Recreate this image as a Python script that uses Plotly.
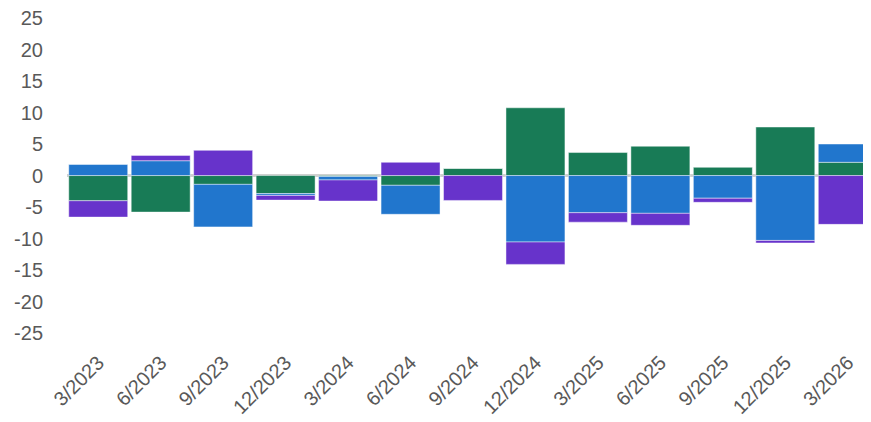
import plotly.graph_objects as go

categories = ["3/2023", "6/2023", "9/2023", "12/2023", "3/2024", "6/2024", "9/2024",
              "12/2024", "3/2025", "6/2025", "9/2025", "12/2025", "3/2026"]

green = [-4.0, -5.8, -1.4, -2.85, -0.15, -1.55, 1.15, 10.75, 3.65, 4.65, 1.3, 7.7, 2.1]
blue = [1.75, 2.35, -6.75, -0.3, -0.55, -4.6, 0.0, -10.55, -5.9, -6.0, -3.6, -10.3, 2.9]
purple = [-2.6, 0.85, 4.0, -0.75, -3.35, 2.1, -3.95, -3.55, -1.5, -1.9, -0.65, -0.4, -7.75]

colors = {"green": "#187b56", "blue": "#2176cd", "purple": "#6733cb"}

fig = go.Figure()
for name, vals in [("green", green), ("blue", blue), ("purple", purple)]:
    fig.add_trace(go.Bar(
        x=categories, y=vals, name=name,
        marker=dict(color=colors[name], line=dict(color="rgba(255,255,255,0.45)", width=1)),
    ))

fig.update_layout(
    barmode="relative",
    bargap=0.056,
    width=871, height=422,
    margin=dict(l=59, r=0, t=0, b=73),
    paper_bgcolor="white", plot_bgcolor="white",
    showlegend=False,
    font=dict(family="Liberation Sans, Arial, sans-serif", size=20, color="#595959"),
)
fig.update_xaxes(
    range=[-0.5, 12.5], tickangle=-45, showgrid=False, showline=False,
    ticks="", tickfont=dict(size=20, color="#595959"), automargin=False,
    ticklabeloverflow="allow", ticklabelstandoff=-11,
)
fig.update_yaxes(
    range=[-28.8, 26.59], tickvals=[25, 20, 15, 10, 5, 0, -5, -10, -15, -20, -25],
    ticktext=["25", "20", "15", "10", "5", "0", "-5", "-10", "-15", "-20", "-25"],
    showgrid=False, zeroline=True, zerolinecolor="#d0d0d0", zerolinewidth=2.5,
    layer="above traces", ticks="", ticklabelstandoff=23, automargin=False,
    ticklabeloverflow="allow",
    tickfont=dict(size=20, color="#595959"),
)

fig.write_html("out.html")
